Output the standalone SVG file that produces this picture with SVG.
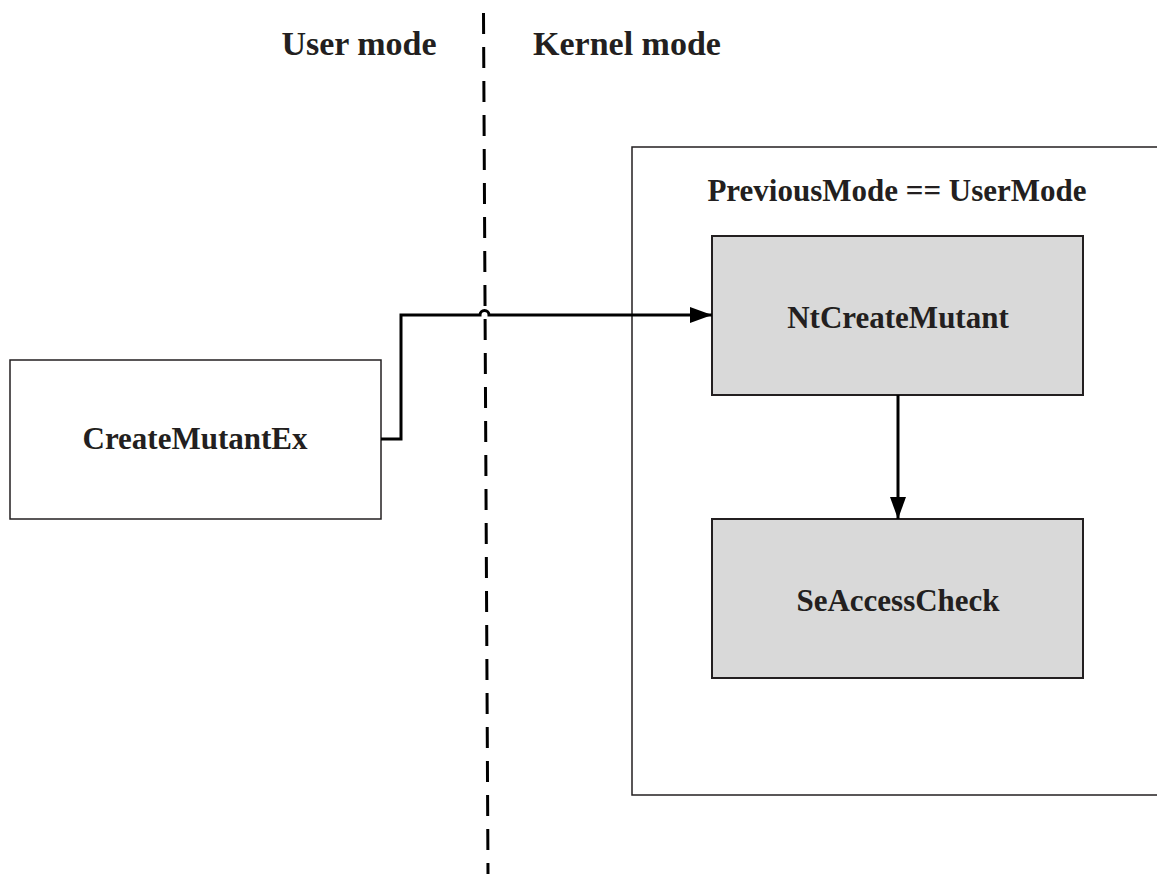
<svg xmlns="http://www.w3.org/2000/svg" width="1157" height="874" viewBox="0 0 1157 874">
  <defs>
    <style>
      .lbl { font-family: "Liberation Serif", "Times New Roman", serif; font-weight: bold; fill: #231f20; text-anchor: middle; }
      .head { font-size: 34px; }
      .node { font-size: 31px; }
      .box { fill: #ffffff; stroke: #231f20; stroke-width: 1.5; }
      .kbox { fill: #d9d9d9; stroke: #231f20; stroke-width: 2; }
      .wire { fill: none; stroke: #000000; stroke-width: 3; }
      .divider { fill: none; stroke: #000000; stroke-width: 3; stroke-dasharray: 21 13; }
    </style>
    <marker id="arrow" viewBox="0 0 22 16" refX="22" refY="8" markerWidth="22" markerHeight="16" markerUnits="userSpaceOnUse" orient="auto">
      <path d="M0,0 L22,8 L0,16 Z" fill="#000000"/>
    </marker>
  </defs>

  <!-- mode headers -->
  <text class="lbl head" x="359" y="55">User mode</text>
  <text class="lbl head" x="627" y="55">Kernel mode</text>

  <!-- user/kernel boundary -->
  <line class="divider" x1="483.5" y1="13" x2="488" y2="874"/>

  <!-- kernel region: PreviousMode == UserMode -->
  <g id="previous-mode">
    <rect class="box" x="632" y="147" width="540" height="648"/>
    <text class="lbl node" x="897" y="201">PreviousMode == UserMode</text>
  </g>

  <g id="create-mutant-ex">
    <rect class="box" x="10" y="360" width="371" height="159"/>
    <text class="lbl node" x="195" y="449">CreateMutantEx</text>
  </g>

  <g id="nt-create-mutant">
    <rect class="kbox" x="712" y="236" width="371" height="159"/>
    <text class="lbl node" x="898" y="328">NtCreateMutant</text>
  </g>

  <g id="se-access-check">
    <rect class="kbox" x="712" y="519" width="371" height="159"/>
    <text class="lbl node" x="898" y="611">SeAccessCheck</text>
  </g>

  <!-- connectors -->
  <g id="connectors">
    <path class="wire" d="M381,439 H401 V315 H480 A4.5,4.5 0 0 1 489,315 H712" marker-end="url(#arrow)"/>
    <path class="wire" d="M898,395 V519" marker-end="url(#arrow)"/>
  </g>
</svg>
